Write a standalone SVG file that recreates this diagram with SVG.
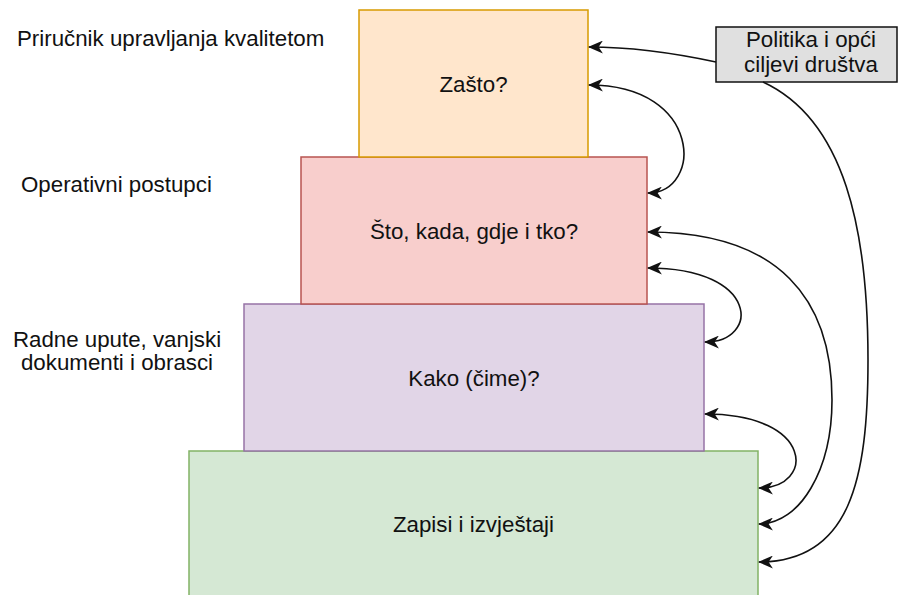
<svg xmlns="http://www.w3.org/2000/svg" width="898" height="595" viewBox="0 0 898 595">
<style>
text{font-family:"Liberation Sans",Arial,Helvetica,sans-serif;font-size:22.3px;fill:#111}
.c{text-anchor:middle}
.edge{fill:none;stroke:#111;stroke-width:1.6}
</style>
<defs>
<marker id="arr" viewBox="0 0 14 12" refX="13" refY="6" markerWidth="15" markerHeight="13" markerUnits="userSpaceOnUse" orient="auto-start-reverse">
<path d="M14,6 L0,0 L4,6 L0,12 Z" fill="#111"/>
</marker>
</defs>
<rect width="898" height="595" fill="#ffffff"/>
<g id="green">
<rect x="189" y="451" width="569" height="150" fill="#d5e8d4" stroke="#82b366" stroke-width="1.5"/>
<text class="c" x="473.5" y="532">Zapisi i izvještaji</text>
</g>
<g id="purple">
<rect x="244" y="304" width="460" height="147" fill="#e1d5e7" stroke="#9673a6" stroke-width="1.5"/>
<text class="c" x="474" y="386">Kako (čime)?</text>
</g>
<g id="red">
<rect x="301" y="157" width="346" height="147" fill="#f8cecc" stroke="#b85450" stroke-width="1.5"/>
<text class="c" x="474" y="239">Što, kada, gdje i tko?</text>
</g>
<g id="orange">
<rect x="359" y="10" width="229" height="147" fill="#ffe6cc" stroke="#d79b00" stroke-width="1.5"/>
<text class="c" x="473.5" y="92">Zašto?</text>
</g>
<g id="politika">
<rect x="716" y="27" width="181" height="55" fill="#e0e0e0" stroke="#111" stroke-width="1.5"/>
<text class="c" x="811" y="47">Politika i opći</text>
<text class="c" x="811" y="72">ciljevi društva</text>
</g>
<g id="label-prirucnik">
<text x="17" y="46">Priručnik upravljanja kvalitetom</text>
</g>
<g id="label-operativni">
<text x="21" y="192">Operativni postupci</text>
</g>
<g id="label-radne">
<text class="c" x="117" y="347">Radne upute, vanjski</text>
<text class="c" x="117" y="370">dokumenti i obrasci</text>
</g>
<g id="connectors">
<path class="edge" d="M716,62 C660,50 620,47 589,47" marker-end="url(#arr)"/>
<path class="edge" d="M589,85 C703,85 703,193 648,193" marker-start="url(#arr)" marker-end="url(#arr)"/>
<path class="edge" d="M648,268 C760,268 760,342 705,342" marker-start="url(#arr)" marker-end="url(#arr)"/>
<path class="edge" d="M705,414 C815,414 815,488 759,488" marker-start="url(#arr)" marker-end="url(#arr)"/>
<path class="edge" d="M648,232 C780,232 832,300 832,400 C832,470 800,524 759,524" marker-start="url(#arr)" marker-end="url(#arr)"/>
<path class="edge" d="M763,82 C845,120 868,230 868,360 C868,480 850,562 759,562" marker-end="url(#arr)"/>
</g>
</svg>
